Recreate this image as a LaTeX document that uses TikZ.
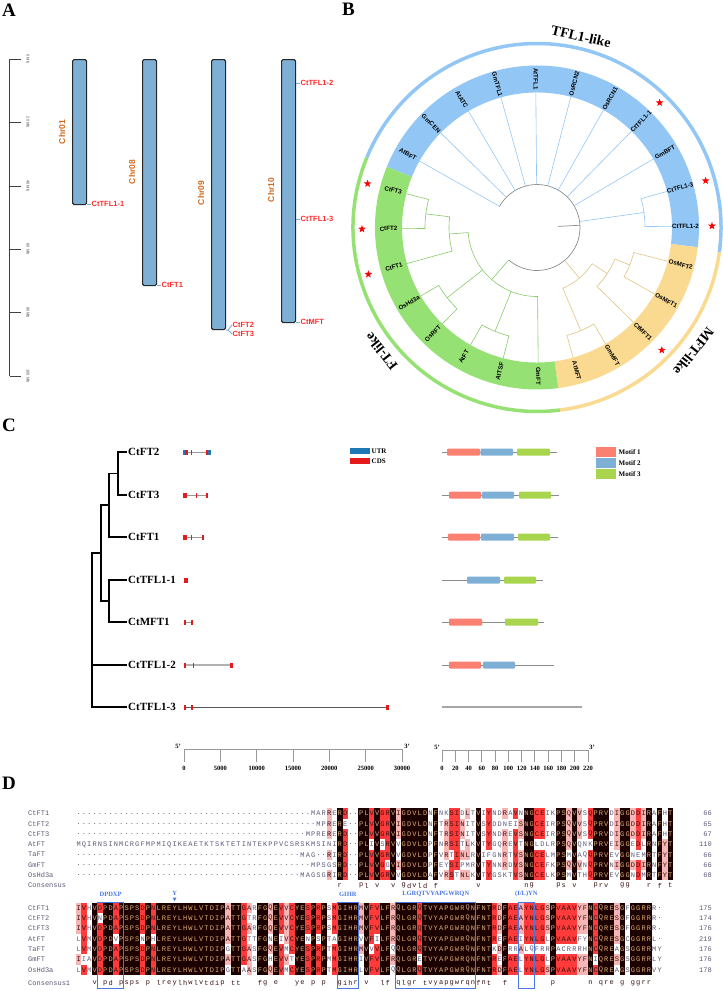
\documentclass[tikz,border=0pt]{standalone}
\usepackage{fontspec}
\setmainfont{Liberation Serif}
\setsansfont{Liberation Sans}
\setmonofont{Liberation Mono}
\usetikzlibrary{shapes.geometric}

\definecolor{chrblue}{HTML}{7EB0D5}
\definecolor{chrtext}{HTML}{D2691E}
\definecolor{genered}{HTML}{FF2A2A}
\definecolor{tflblue}{HTML}{92C6F4}
\definecolor{ftgreen}{HTML}{96E173}
\definecolor{mftyellow}{HTML}{F9DA90}
\definecolor{utrblue}{HTML}{1F78B4}
\definecolor{cdsred}{HTML}{E41A1C}
\definecolor{motifA}{HTML}{FA8072}
\definecolor{motifB}{HTML}{7EB0D5}
\definecolor{motifC}{HTML}{A8D44E}
\definecolor{alnblack}{HTML}{1C0000}
\definecolor{alnred}{HTML}{FF3A3A}
\definecolor{alnpink}{HTML}{F7B6B6}
\definecolor{alntan}{HTML}{D9AE72}
\definecolor{alndark}{HTML}{3A1010}
\definecolor{alngray}{HTML}{5A5A78}
\definecolor{motifbox}{HTML}{4A78E0}

\tikzset{
  panel/.style={font=\bfseries\fontsize{19}{19}\selectfont, inner sep=0pt},
  % A
  mbtick/.style={draw=black!75, line width=0.6pt},
  mblabel/.style={font=\sffamily\fontsize{4}{4}\selectfont, text=black!70, rotate=-90, inner sep=0pt},
  chrom/.style={draw=black!85, line width=1.1pt, fill=chrblue, rounded corners=1.5pt, minimum width=14pt, inner sep=0pt, anchor=north west},
  chrlabel/.style={font=\sffamily\bfseries\fontsize{8.5}{9}\selectfont, text=chrtext, rotate=90, inner sep=0pt},
  genelabel/.style={font=\sffamily\bfseries\fontsize{7.5}{8}\selectfont, text=genered, anchor=west, inner sep=0.5pt},
  genelink/.style={draw=chrblue, line width=0.9pt},
  % B
  leaf/.style={font=\sffamily\bfseries\fontsize{6.2}{6.2}\selectfont, inner sep=0pt},
  grouplabel/.style={font=\bfseries\fontsize{14}{14}\selectfont, inner sep=0pt},
  ring/.style={line width=3.5pt},
  tflbranch/.style={draw=tflblue, line width=0.6pt},
  ftbranch/.style={draw=ftgreen!90!black, line width=0.6pt},
  mftbranch/.style={draw=mftyellow!90!black, line width=0.6pt},
  rootbranch/.style={draw=black!45, line width=0.7pt},
  redstar/.style={star, star points=5, star point ratio=2.4, fill=red, minimum size=8pt, inner sep=0pt},
  % C
  genename/.style={font=\bfseries\fontsize{11}{11}\selectfont, anchor=west, inner sep=1pt},
  cladeline/.style={draw=black, line width=1.1pt},
  intron/.style={draw=black!40, line width=1pt},
  legtext/.style={font=\bfseries\fontsize{7}{7}\selectfont, anchor=west, inner sep=0.5pt},
  scaletick/.style={draw=black!40, line width=0.8pt},
  scalenum/.style={font=\bfseries\fontsize{6.5}{6.5}\selectfont, inner sep=0pt},
  motifline/.style={draw=black!45, line width=0.8pt},
  motif/.style={rounded corners=1pt},
  % D
  seqname/.style={font=\ttfamily\fontsize{7}{7}\selectfont, text=alngray, anchor=west, inner sep=0pt},
  seqnum/.style={font=\ttfamily\fontsize{7}{7}\selectfont, text=alngray, anchor=east, inner sep=0pt},
  alncell/.style={inner sep=0pt, minimum width=5.33pt, minimum height=10.3pt, font=\ttfamily\fontsize{7}{7}\selectfont},
  alnK/.style={fill=alnblack, text=alntan},
  alnR/.style={fill=alnred, text=alndark},
  alnP/.style={fill=alnpink, text=alndark},
  alnW/.style={text=alngray},
  motiftag/.style={font=\bfseries\fontsize{6.5}{6.5}\selectfont, text=motifbox, inner sep=0pt},
  motifframe/.style={draw=motifbox, line width=1pt},
}

% one residue, one consensus letter
\newcommand\alncell[5]{\node[alncell,#4] (#1) at (#2,#3) {#5};}
\newcommand\alncons[4]{\node[alncell,text=alndark] (#1) at (#2,#3) {\lowercase{#4}};}

\ExplSyntaxOn
\seq_new:N \l_aln_seq
\int_new:N \l_aln_n_int
\int_new:N \l_aln_len_int
\int_new:N \l_aln_cnt_int
\tl_new:N \l_aln_a_tl
\tl_new:N \l_aln_b_tl
\tl_new:N \l_aln_x_tl
\tl_new:N \l_aln_y_tl
\tl_new:N \l_aln_sty_tl
\tl_new:N \l_aln_cons_tl
\cs_generate_variant:Nn \str_item:Nn { c }
% #1 tag, #2 y of first row, #3 y of consensus, #4 rows
\NewDocumentCommand \alnblock { m m m m }
 {
  \seq_set_from_clist:Nn \l_aln_seq {#4}
  \int_set:Nn \l_aln_n_int { \seq_count:N \l_aln_seq }
  \int_zero:N \l_aln_len_int
  \seq_map_inline:Nn \l_aln_seq
   { \int_set:Nn \l_aln_len_int { \int_max:nn { \l_aln_len_int } { \str_count:n {##1} } } }
  \int_step_inline:nn { \l_aln_n_int }
   {
    \tl_set:Nx \l_aln_b_tl { \seq_item:Nn \l_aln_seq {##1} }
    \tl_set:cx { l_aln_row_##1_tl }
     {
      \prg_replicate:nn { \l_aln_len_int - \str_count:N \l_aln_b_tl } { . }
      \l_aln_b_tl
     }
   }
  \int_step_inline:nn { \l_aln_len_int }
   {
    \tl_set:Nx \l_aln_x_tl { \fp_eval:n { 76 + 5.33 * (##1 - 0.5) } }
    \int_step_inline:nn { \l_aln_n_int }
     { \tl_set:cx { l_aln_c_####1_tl } { \str_item:cn { l_aln_row_####1_tl } {##1} } }
    \tl_clear:N \l_aln_cons_tl
    \int_step_inline:nn { \l_aln_n_int }
     {
      \tl_set_eq:Nc \l_aln_a_tl { l_aln_c_####1_tl }
      \int_zero:N \l_aln_cnt_int
      \str_if_eq:VnF \l_aln_a_tl { . }
       {
        \int_step_inline:nn { \l_aln_n_int }
         {
          \tl_set_eq:Nc \l_aln_b_tl { l_aln_c_########1_tl }
          \tl_if_eq:NNT \l_aln_a_tl \l_aln_b_tl { \int_incr:N \l_aln_cnt_int }
         }
       }
      \tl_set:Nx \l_aln_sty_tl
       {
        \int_compare:nNnTF { \l_aln_cnt_int } = { \l_aln_n_int } { alnK }
         {
          \int_compare:nNnTF { \l_aln_cnt_int } > { 5 } { alnR }
           { \int_compare:nNnTF { \l_aln_cnt_int } > { 3 } { alnP } { alnW } }
         }
       }
      \int_compare:nNnT { \l_aln_cnt_int } = { \l_aln_n_int }
       { \tl_set_eq:NN \l_aln_cons_tl \l_aln_a_tl }
      \tl_set:Nx \l_aln_y_tl { \fp_eval:n { #2 + 10.3 * (####1 - 1) } }
      \use:x
       {
        \exp_not:N \alncell {#1r####1c##1} { \l_aln_x_tl } { \l_aln_y_tl }
         { \l_aln_sty_tl } { \l_aln_a_tl }
       }
     }
    \tl_if_empty:NF \l_aln_cons_tl
     {
      \use:x
       { \exp_not:N \alncons {#1k##1} { \l_aln_x_tl } { #3 } { \l_aln_cons_tl } }
     }
   }
 }
\ExplSyntaxOff

\begin{document}
\begin{tikzpicture}[x=1pt, y=-1pt]
\useasboundingbox (0,0) rectangle (723,991);

% ---------- A: chromosome map ----------
\node[panel] (lblA) at (9,10) {A};
% scale bar
\draw[mbtick] (9.5,59) -- (9.5,376);
\foreach \v [count=\k from 0] in {0,20,40,60,80,100} {
  \draw[mbtick] (9.5,{59+63.4*\k}) -- ++(11.5,0);
  \node[mblabel] (mb\k) at (28,{59+63.4*\k}) {\v\ Mb};
}
% chromosomes
\node[chrom, minimum height=145pt] (chr01) at (72,59) {};
\node[chrom, minimum height=226pt] (chr08) at (142,59) {};
\node[chrom, minimum height=270pt] (chr09) at (211,59) {};
\node[chrom, minimum height=263pt] (chr10) at (281,59) {};
\node[chrlabel] (lchr01) at (62,132) {Chr01};
\node[chrlabel] (lchr08) at (132,172) {Chr08};
\node[chrlabel] (lchr09) at (201,193) {Chr09};
\node[chrlabel] (lchr10) at (271,190) {Chr10};
% genes
\node[genelabel] (tfl11) at (91,204) {CtTFL1-1};
\node[genelabel] (ft1) at (161,285) {CtFT1};
\node[genelabel] (ft2) at (232,325) {CtFT2};
\node[genelabel] (ft3) at (232,334) {CtFT3};
\node[genelabel] (tfl12) at (300,83) {CtTFL1-2};
\node[genelabel] (tfl13) at (300,219) {CtTFL1-3};
\node[genelabel] (mft) at (300,322) {CtMFT};
\draw[genelink] (chr01.east |- tfl11) -- (tfl11.west);
\draw[genelink] (chr08.east |- ft1) -- (ft1.west);
\draw[genelink] (chr09.south east) -- ++(2,0) coordinate (fork) -- (ft2.west);
\draw[genelink] (fork) -- (ft3.west);
\draw[genelink] (chr10.east |- tfl12) -- (tfl12.west);
\draw[genelink] (chr10.east |- tfl13) -- (tfl13.west);
\draw[genelink] (chr10.east |- mft) -- (mft.west);

% ---------- B: circular tree ----------
\node[panel] (lblB) at (348.5,9) {B};
\begin{scope}[shift={(537,227.5)}, y=1pt]
  % outer ring
  \draw[ring, tflblue] (-7.7:184) arc[start angle=-7.7, end angle=157.7, radius=184];
  \draw[ring, ftgreen] (157.7:184) arc[start angle=157.7, end angle=277.2, radius=184];
  \draw[ring, mftyellow] (277.2:184) arc[start angle=277.2, end angle=352.3, radius=184];
  % label band
  \fill[tflblue] (-7:162) arc[start angle=-7, end angle=158, radius=162] -- (158:135) arc[start angle=158, end angle=-7, radius=135] -- cycle;
  \fill[mftyellow] (-82.5:162) arc[start angle=-82.5, end angle=-7, radius=162] -- (-7:135) arc[start angle=-7, end angle=-82.5, radius=135] -- cycle;
  \fill[ftgreen] (158:162) arc[start angle=158, end angle=277.5, radius=162] -- (277.5:135) arc[start angle=277.5, end angle=158, radius=135] -- cycle;
  % leaves
  \foreach \nm [count=\i from 0] in {AtBFT,GmCEN,AtATC,GmTFL1,AtTFL1,OsRCN2,OsRCN1,CtTFL1-1,GmBFT,CtTFL1-3,CtTFL1-2,OsMFT2,OsMFT1,CtMFT1,GmMFT,AtMFT,GmFT,AtTSF,AtFT,OsRFT,OsHd3a,CtFT1,CtFT2,CtFT3} {
    \pgfmathsetmacro\ang{150.5-15*\i}
    \pgfmathsetmacro\rot{(\ang>-90)*(\ang<90)*\ang+(1-(\ang>-90)*(\ang<90))*(\ang+180)}
    \node[leaf, rotate=\rot] (b\i) at (\ang:148.5) {\nm};
  }
  % root
  \draw[rootbranch] (151:43) arc[start angle=151, end angle=-131, radius=43];
  \draw[rootbranch] (3:21) -- (3:43);
  % TFL1-like clade
  \foreach \i in {0,...,8}
    \draw[tflbranch] ({150.5-15*\i}:43) -- ({150.5-15*\i}:135);
  \draw[tflbranch] (15.5:135) -- (15.5:108) arc[start angle=15.5, end angle=0.5, radius=108] -- (0.5:135);
  \draw[tflbranch] (8:43) -- (8:108);
  % MFT-like clade
  \draw[mftbranch] (-14.5:135) -- (-14.5:100) arc[start angle=-14.5, end angle=-29.5, radius=100] -- (-29.5:135);
  \draw[mftbranch] (-22:100) -- (-22:84) arc[start angle=-22, end angle=-44.5, radius=84] -- (-44.5:135);
  \draw[mftbranch] (-59.5:135) -- (-59.5:112) arc[start angle=-59.5, end angle=-74.5, radius=112] -- (-74.5:135);
  \draw[mftbranch] (-33.25:84) -- (-33.25:66) arc[start angle=-33.25, end angle=-67, radius=66] -- (-67:112);
  \draw[mftbranch] (-50:66) -- (-50:43);
  % FT-like clade
  \draw[ftbranch] (165.5:135) -- (165.5:112) arc[start angle=165.5, end angle=180.5, radius=112] -- (180.5:135);
  \draw[ftbranch] (173:112) -- (173:88) arc[start angle=173, end angle=195.5, radius=88] -- (195.5:135);
  \draw[ftbranch] (210.5:135) -- (210.5:114) arc[start angle=210.5, end angle=225.5, radius=114] -- (225.5:135);
  \draw[ftbranch] (240.5:135) -- (240.5:112) arc[start angle=240.5, end angle=255.5, radius=112] -- (255.5:135);
  \draw[ftbranch] (184.25:88) -- (184.25:69) arc[start angle=184.25, end angle=270.5, radius=69] -- (270.5:135);
  \draw[ftbranch] (218:114) -- (218:69);
  \draw[ftbranch] (248:112) -- (248:69);
  \draw[ftbranch] (229:69) -- (229:43);
  % stars on the Ct genes
  \foreach \a [count=\k] in {45.5,15.5,0.5,-44.5,165.5,180.5,195.5}
    \node[redstar] (star\k) at (\a:175) {};
  % group names
  \node[grouplabel, rotate=-13] (gtfl) at (77:196) {TFL1-like};
  \node[grouplabel, rotate=128.5] (gft) at (218.5:199) {FT-like};
  \node[grouplabel, rotate=-128.4] (gmft) at (-38.4:200) {MFT-like};
\end{scope}

% ---------- C: gene and motif structures ----------
\node[panel] (lblC) at (9,425) {C};
\foreach \nm/\y [count=\i] in {CtFT2/452, CtFT3/495, CtFT1/537, CtTFL1-1/580, CtMFT1/622, CtTFL1-2/665, CtTFL1-3/707}
  \node[genename] (c\i) at (127,\y) {\nm};
% tree
\coordinate (n1) at (118,473.5);
\coordinate (n2) at (109,505);
\coordinate (n3) at (109,601);
\coordinate (n4) at (101,553);
\coordinate (n5) at (92,600);
\draw[cladeline] (c1.west) -| (n1) |- (c2.west);
\draw[cladeline] (n1) -| (n2) |- (c3.west);
\draw[cladeline] (c4.west) -| (n3) |- (c5.west);
\draw[cladeline] (n2) -| (n4) |- (n3);
\draw[cladeline] (n4) -| (n5) |- (c7.west);
\draw[cladeline] (n5 |- c6.west) -- (c6.west);
% exon-intron structures
\foreach \y/\e in {452/210.5, 495/208.3, 537/203.7, 622/193}
  \draw[intron] (183.5,\y) -- (\e,\y);
\draw[intron, draw=black!30, line width=1.6pt] (184,665) -- (231,665);
\draw[intron, draw=black!65, line width=0.8pt] (185,707) -- (386,707);
\foreach \y/\a/\b in {452/185.3/188.3, 452/191.2/192.2, 452/205.7/208.3,
    495/183.3/186.7, 495/196/197.3, 495/205.7/208.3,
    537/183.3/186.7, 537/191/192.3, 537/201.5/203.7,
    580/184/188.3, 622/183.5/186, 622/190.5/193,
    665/183.5/185.5, 665/192.5/194, 665/229.5/232.5,
    707/183.5/185.5, 707/190.5/193, 707/385.5/389}
  \fill[cdsred] (\a,\y-2.5) rectangle (\b,\y+2.5);
\fill[utrblue] (183.3,449.5) rectangle (185.3,454.5);
\fill[utrblue] (208.3,449.5) rectangle (210.7,454.5);
% legend
\fill[utrblue] (350,448) rectangle (370,454);
\fill[cdsred] (350,458) rectangle (370,464);
\node[legtext] (utr) at (371,451) {UTR};
\node[legtext] (cds) at (371,461) {CDS};
% scale in bp
\draw[scaletick] (184,749) -- (402,749);
\foreach \v [count=\k from 0] in {0,5000,10000,15000,20000,25000,30000} {
  \draw[scaletick] ({184+36.33*\k},749) -- ++(0,13);
  \node[scalenum] (bp\k) at ({184+36.33*\k},768) {\v};
}
\node[scalenum] (bp5) at (178,746) {5'};
\node[scalenum] (bp3) at (407,746) {3'};
% motifs
\foreach \y/\e in {452/557, 495/559, 537/558, 580/543, 622/544, 665/554}
  \draw[motifline] (442,\y) -- (\e,\y);
\draw[motifline, line width=2pt, draw=black!35] (442,707) -- (582,707);
\foreach \y/\a/\b in {452/447/480, 495/449/481, 537/448/480, 622/449/482, 665/449/481}
  \fill[motif, motifA] (\a,\y-3.5) rectangle (\b,\y+3.5);
\foreach \y/\a/\b in {452/480.5/513, 495/482/514, 537/481/514, 580/467/500, 665/483/515}
  \fill[motif, motifB] (\a,\y-3.5) rectangle (\b,\y+3.5);
\foreach \y/\a/\b in {452/517/550, 495/519/551, 537/518/550, 580/504/536, 622/505/538}
  \fill[motif, motifC] (\a,\y-3.5) rectangle (\b,\y+3.5);
% motif legend
\foreach \c/\t [count=\k] in {motifA/Motif 1, motifB/Motif 2, motifC/Motif 3} {
  \fill[\c] (596,{436+11*\k}) rectangle (616,{446+11*\k});
  \node[legtext] (mleg\k) at (618,{441+11*\k}) {\t};
}
% scale in aa
\draw[scaletick] (442,750) -- (588,750);
\foreach \v [count=\k from 0] in {0,20,40,60,80,100,120,140,160,180,200,220} {
  \draw[scaletick] ({442+13.27*\k},750) -- ++(0,12);
  \node[scalenum] (aa\k) at ({442+13.27*\k},768) {\v};
}
\node[scalenum] (aa5) at (437,747) {5'};
\node[scalenum] (aa3) at (592,747) {3'};

% ---------- D: alignment ----------
\node[panel] (lblD) at (9,783) {D};
\foreach \nm/\na/\nb [count=\i from 0] in {CtFT1/66/175, CtFT2/65/174, CtFT3/67/176, AtFT/110/219, TaFT/66/176, GmFT/66/176, OsHd3a/68/178} {
  \node[seqname] (na\i) at (28,{813.5+10.3*\i}) {\nm};
  \node[seqname] (nb\i) at (28,{908+10.3*\i}) {\nm};
  \node[seqnum] (ea\i) at (712,{813.5+10.3*\i}) {\na};
  \node[seqnum] (eb\i) at (712,{908+10.3*\i}) {\nb};
}
\node[seqname] (cona) at (28,885.6) {Consensus};
\node[seqname] (conb) at (28,983) {Consensus1};
\alnblock{a}{813.5}{885.6}{
 MARRERD..PLVVGRVIGDVLDNFNKSIDLTVIYNDRAVNNGCEIKPSQVVSQPRVDIGGDDIRAFHT,
 MPRERE..PLVVGRVIGDVLDNFTRSINITVSYDDNEISNGCEIRPSQVVSQPRVDIGGDDIRAFHT,
 MPRERERD..PLVVGRVIGDVLDNFTRSINITVSYNDREVSNGCEIRPSQVVSQPRVDIGGDDIRAFHT,
 MQIRNSINMCRGFMPMIQIKEAETKTSKTETINTEKPPVCSRSKMSINIRD..PLIVSRVVGDVLDPFNRSITLKVTYGQREVTNGLDLRPSQVQNKPRVEIGGEDLRNFYT,
 MAG..RIRD..PLVVGRVVGDVLDPFVRTINLRVIFGNRTVSNGCELMPSMVAQQPRVEVGGNEMRTFYT,
 MPSGSRD..PLVVGGVIGDVLDPFEYSIPMRVTYNNRDVSNGCEFKPSQVVNQPRVNIGGDDIRNFYT,
 MAGSGRIRD..PLVVGRVVGDVLDAFVRSTNLKVTYGSKTVSNGCELKPSMVTHQPRVEVGGNDMRTFYT}
\alnblock{b}{908}{983}{
 IVHVDPDAPSPSDPNLREYLHWLVTDIPATTGARFGQEVVCYESPRPSMGIHRMVFVLFRQLGRQTVYAPGWRQNFNTRDFAEAYNLGSPVAAVYFNCQRESGFGGRRR.,
 IVHVNPDAPSPSDPNLREYLHWLVTDIPATTGTRFGQEVVCYESPRPSMGIHRMVFVLFRQLGRQTVYAPGWRQNFNTRDFAEAYNLGSPVAAVYFNCQRESGFGGRRR.,
 IVHVDPDAPSPSDPNLREYLHWLVTDIPATTGARFGQEVVCYESPRPSMGIHRMVFVLFRQLGRQTVYAPGWRQNFNTRDFAEAYNLGSPVAAVYFNCQRESGFGGRRR.,
 LVMVDPDVPSPSNPHLREYLHWLVTDIPATTGTTFGNEIVCYENPSPTAGIHRVVFILFRQLGRQTVYAPGWRQNFNTREFAEIYNLGLPVAAVFYNCQRESGCGGRRL.,
 LVMVDPDAPSPSDPNLREYLHWLVTDIPGTTGASFGQEVMCYESPRPTMGIHRMVVVLFQQLGRQTVYAPGWRQNFNTKDFRRALQFRRPACRRRHNCQREAGSGGRRMY,
 IIAVDPDAPSPSDPNLREYLHWLVTDIPATTGASFGHEVVTYESPRPMMGIHRIVFVLFRQLGRETVYAPGWRQNFNTREFAELYNLGLPVAAVYFNIQRESGSGGRRLY,
 LVMVDPDAPSPSDPNLREYLHWLVTDIPGTTAASFGQEVMCYESPRPTMGIHRLVFVLFQQLGRQTVYAPGWRQNFNTRDFAELYNLGSPVAAVYFNCQREAGSGGRRVY}
% motif frames and names
\draw[motifframe] ({76+5.33*4},902) rectangle ({76+5.33*9},988);
\draw[motifframe] ({76+5.33*49},902) rectangle ({76+5.33*53},988);
\draw[motifframe] ({76+5.33*60},902) rectangle ({76+5.33*75},988);
\draw[motifframe] ({76+5.33*83},902) rectangle ({76+5.33*86},988);
\node[motiftag] (mdp) at ({76+5.33*6.5},894) {DPDXP};
\node[motiftag] (mty) at ({76+5.33*18.5},893) {Y};
\fill[motifbox] ({76+5.33*18.5-2},897.5) -- ++(4,0) -- ++(-2,3.5) -- cycle;
\node[motiftag] (mgi) at ({76+5.33*51},894) {GIHR};
\node[motiftag] (mlg) at ({76+5.33*67.5},894) {LGRQTVYAPGWRQN};
\node[motiftag] (myn) at ({76+5.33*84.5},894) {(I/L)YN};
\end{tikzpicture}
\end{document}
